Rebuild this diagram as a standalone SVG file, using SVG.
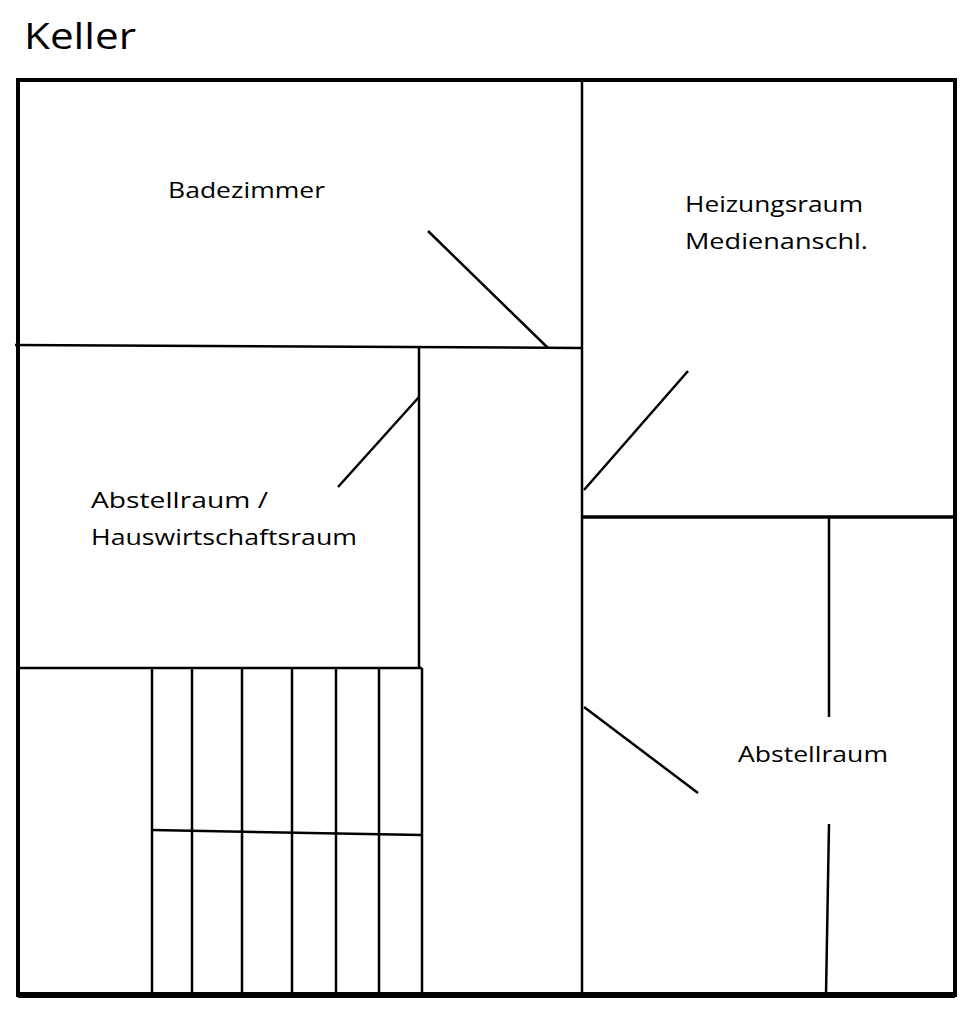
<svg xmlns="http://www.w3.org/2000/svg" width="971" height="1024" viewBox="0 0 971 1024">
<style>
.w{stroke:#000;stroke-width:2.5;fill:none}
.t{font-family:"Open Sans","Liberation Sans",sans-serif;font-size:22px;fill:#000}
</style>
<rect width="971" height="1024" fill="#fff"/>
<text x="24" y="49" font-family="Open Sans, Liberation Sans, sans-serif" font-size="36" fill="#000" textLength="112" lengthAdjust="spacingAndGlyphs">Keller</text>
<rect x="18" y="80" width="937" height="915" fill="none" stroke="#000" stroke-width="4"/>
<line x1="18" y1="995" x2="955" y2="995" stroke="#000" stroke-width="6"/>
<g class="w">
<line x1="15" y1="345" x2="582" y2="348"/>
<line x1="582" y1="80" x2="582" y2="995"/>
<line x1="582" y1="517" x2="955" y2="517" stroke-width="3.5"/>
<line x1="419" y1="346" x2="419" y2="668"/>
<line x1="18" y1="668" x2="422" y2="668"/>
<line x1="422" y1="668" x2="422" y2="995"/>
<line x1="152" y1="668" x2="152" y2="995"/>
<line x1="192" y1="668" x2="192" y2="995"/>
<line x1="242" y1="668" x2="242" y2="995"/>
<line x1="292" y1="668" x2="292" y2="995"/>
<line x1="336" y1="668" x2="336" y2="995"/>
<line x1="379" y1="668" x2="379" y2="995"/>
<line x1="152" y1="830" x2="422" y2="835"/>
<line x1="428" y1="231" x2="548" y2="348"/>
<line x1="338" y1="487" x2="419" y2="397"/>
<line x1="584" y1="490" x2="688" y2="371"/>
<line x1="584" y1="707" x2="698" y2="793"/>
<line x1="829" y1="517" x2="829" y2="717"/>
<line x1="829" y1="824" x2="826" y2="995"/>
</g>
<text class="t" x="168" y="198" textLength="157" lengthAdjust="spacingAndGlyphs">Badezimmer</text>
<text class="t" x="685" y="212" textLength="178" lengthAdjust="spacingAndGlyphs">Heizungsraum</text>
<text class="t" x="685" y="249" textLength="183" lengthAdjust="spacingAndGlyphs">Medienanschl.</text>
<text class="t" x="91" y="508" textLength="177" lengthAdjust="spacingAndGlyphs">Abstellraum /</text>
<text class="t" x="91" y="545" textLength="266" lengthAdjust="spacingAndGlyphs">Hauswirtschaftsraum</text>
<text class="t" x="738" y="762" textLength="150" lengthAdjust="spacingAndGlyphs">Abstellraum</text>
</svg>
